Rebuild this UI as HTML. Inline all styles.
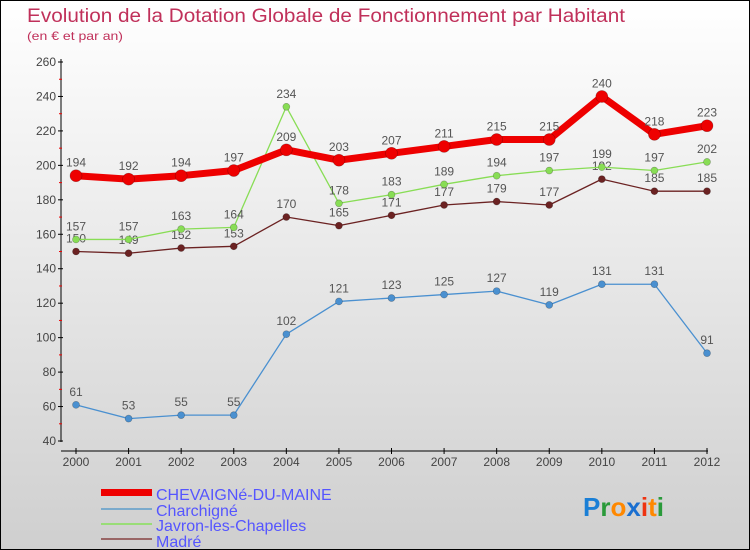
<!DOCTYPE html>
<html><head><meta charset="utf-8"><style>
body{margin:0}
#c{width:750px;height:550px;position:relative;overflow:hidden;box-sizing:border-box;border:1px solid #000;background:linear-gradient(#ffffff,#cfcfcf);font-family:"Liberation Sans",sans-serif}
svg{position:absolute;left:0;top:0}
</style></head><body>
<div id="c">
<svg id="s" width="750" height="550">
<text x="26" y="21" font-size="19" fill="#c0305a" textLength="598" lengthAdjust="spacingAndGlyphs">Evolution de la Dotation Globale de Fonctionnement par Habitant</text>
<text x="26" y="39" font-size="12" fill="#c0305a" textLength="96" lengthAdjust="spacingAndGlyphs">(en € et par an)</text>
<g id="axes"></g><g id="series"></g>
<g font-size="16" fill="#5555ff">
<rect x="100" y="488" width="51" height="7" fill="#e00"/>
<text x="155" y="499">CHEVAIGNé-DU-MAINE</text>
<rect x="100" y="507" width="51" height="2" fill="#7aaacc"/>
<text x="155" y="515">Charchigné</text>
<rect x="100" y="522" width="51" height="2" fill="#99dd77"/>
<text x="155" y="530">Javron-les-Chapelles</text>
<rect x="100" y="537" width="51" height="2" fill="#996666"/>
<text x="155" y="546">Madré</text>
</g>
<g font-size="26" font-weight="bold">
<text x="582" y="515"><tspan fill="#1a7fd6">P</tspan><tspan fill="#2a9a3a">r</tspan><tspan fill="#ff8800">o</tspan><tspan fill="#1a6fd0">x</tspan><tspan fill="#ee3311">i</tspan><tspan fill="#ff8800">t</tspan><tspan fill="#2a9a3a">i</tspan></text>
</g>
</svg></div>
<script>
const years=[2000,2001,2002,2003,2004,2005,2006,2007,2008,2009,2010,2011,2012];
const yTicks=[40,60,80,100,120,140,160,180,200,220,240,260];
const chevaigne=[194,192,194,197,209,203,207,211,215,215,240,218,223];
const charchigne=[61,53,55,55,102,121,123,125,127,119,131,131,91];
const javron=[157,157,163,164,234,178,183,189,194,197,199,197,202];
const madre=[150,149,152,153,170,165,171,177,179,177,192,185,185];
const NS="http://www.w3.org/2000/svg";
const xs=i=>75+i*(706-75)/(years.length-1);
const ys=v=>440-(v-40)*(440-61)/220;
function mk(t,a,p){const e=document.createElementNS(NS,t);for(const k in a)e.setAttribute(k,a[k]);p.appendChild(e);return e;}
const ax=document.getElementById('axes');
let l=mk('line',{x1:60,y1:58,x2:60,y2:441,stroke:'#000'},ax);


l=mk('line',{x1:60,y1:450,x2:707,y2:450,stroke:'#000'},ax);


yTicks.forEach(v=>{const y=ys(v);
mk('line',{x1:57,y1:y,x2:62,y2:y,stroke:'#000'},ax);
if(v<260)mk('line',{x1:58,y1:y-17.2,x2:61,y2:y-17.2,stroke:'#e00'},ax);
const t=mk('text',{x:55,y:y+4,'font-size':12,fill:'#444','text-anchor':'end'},ax);t.textContent=v;

});
years.forEach((yr,i)=>{const x=xs(i);
mk('line',{x1:x,y1:447,x2:x,y2:453,stroke:'#000'},ax);
const t=mk('text',{x:x,y:465,'font-size':12,fill:'#444','text-anchor':'middle'},ax);t.textContent=yr;

});
const sg=document.getElementById('series');
function draw(data,color,w,r,name){
const g=mk('g',{},sg);


const pts=data.map((v,i)=>xs(i)+','+ys(v)).join(' ');
mk('polyline',{points:pts,fill:'none',stroke:color,'stroke-width':w,'stroke-linejoin':'round'},g);
data.forEach((v,i)=>{const c=mk('circle',{cx:xs(i),cy:ys(v),r:r,fill:color,stroke:'rgba(0,0,0,0.3)','stroke-width':0.6},g);


const t=mk('text',{x:xs(i),y:ys(v)-9,'font-size':12,fill:'#555','text-anchor':'middle'},g);t.textContent=v;

});}
draw(madre,'#6b2222',1.3,3.5,'series-madre');
draw(javron,'#88dd55',1.3,3.5,'series-javron');
draw(charchigne,'#4a90d0',1.3,3.5,'series-charchigne');
draw(chevaigne,'#ee0000',7,6,'series-chevaigne');
</script>
</body></html>
